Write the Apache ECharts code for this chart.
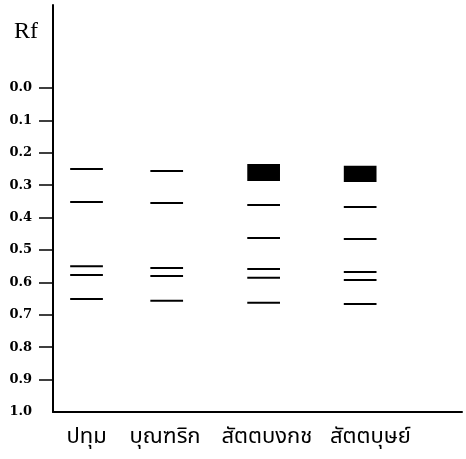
<!DOCTYPE html>
<html>
<head>
<meta charset="utf-8">
<script src="https://cdn.jsdelivr.net/npm/echarts@6/dist/echarts.min.js"></script>
<style>html,body{margin:0;padding:0;background:#fff}#c{width:466px;height:459px}</style>
</head>
<body>
<div id="c"></div>
<script>
// Samples (lanes)
const samples = ['ปทุม', 'บุณฑริก', 'สัตตบงกช', 'สัตตบุษย์'];
// Lane centre positions on the plate (0-100 across the plate width)
const laneX = [8.2, 27.8, 51.5, 75.1];
// Sample label positions along the bottom (0-100 across the plate width)
const labelX = [8.2, 27.4, 52.3, 77.6];
// Thin spots (Rf values) per sample
const thinBands = [
  [0.250, 0.352, 0.550, 0.577, 0.651],
  [0.256, 0.355, 0.556, 0.580, 0.657],
  [0.361, 0.463, 0.559, 0.586, 0.663],
  [0.367, 0.466, 0.568, 0.593, 0.667]
];
// Thick (intense) spots as [Rf start, Rf end] per sample
const thickBands = [
  null,
  null,
  [0.235, 0.287],
  [0.240, 0.290]
];
// Rf tick values
const rfLabels = [0.0, 0.1, 0.2, 0.3, 0.4, 0.5, 0.6, 0.7, 0.8, 0.9, 1.0];
const rfTicks = [0.0, 0.1, 0.2, 0.3, 0.4, 0.5, 0.6, 0.7, 0.8, 0.9];

const bandData = [];
samples.forEach((s, i) => {
  thinBands[i].forEach(rf => bandData.push([laneX[i], rf, rf]));
  if (thickBands[i]) bandData.push([laneX[i], thickBands[i][0], thickBands[i][1]]);
});

const HALF = 4.0;
const chart = echarts.init(document.getElementById('c'));
chart.setOption({
  animation: false,
  backgroundColor: '#fff',
  title: {
    text: 'Rf', left: 9, top: 15,
    textStyle: {fontFamily: 'Liberation Serif', fontSize: 24, fontWeight: 'normal', color: '#000'}
  },
  grid: {left: 53, right: 4, top: 5, bottom: 47},
  xAxis: {
    type: 'value', min: 0, max: 100,
    axisLine: {show: true, onZero: false, lineStyle: {color: '#000', width: 2}},
    axisTick: {show: false},
    splitLine: {show: false},
    axisLabel: {
      customValues: labelX,
      margin: 16,
      color: '#000',
      fontSize: 22,
      fontFamily: 'Noto Sans Thai, Noto Sans, sans-serif',
      formatter: v => {
        let best = 0;
        labelX.forEach((x, i) => { if (Math.abs(x - v) < Math.abs(labelX[best] - v)) best = i; });
        return samples[best];
      }
    }
  },
  yAxis: {
    type: 'value', inverse: true, min: -0.256, max: 1.0,
    axisLine: {show: true, onZero: false, lineStyle: {color: '#000', width: 2}},
    axisTick: {show: true, customValues: rfTicks, length: 14, lineStyle: {color: '#000', width: 1.5}},
    splitLine: {show: false},
    axisLabel: {
      customValues: rfLabels,
      margin: 21,
      color: '#000',
      fontSize: 13,
      fontWeight: 'bold',
      fontFamily: 'DejaVu Serif',
      formatter: v => v.toFixed(1)
    }
  },
  series: [{
    type: 'custom',
    data: bandData,
    renderItem: (params, api) => {
      const x = api.value(0);
      const p1 = api.coord([x - HALF, api.value(1)]);
      const p2 = api.coord([x + HALF, api.value(2)]);
      if (api.value(1) === api.value(2)) {
        return {type: 'line', shape: {x1: p1[0], y1: p1[1], x2: p2[0], y2: p2[1]},
          style: {stroke: '#000', lineWidth: 2}};
      }
      return {type: 'rect', shape: {x: p1[0], y: p1[1], width: p2[0] - p1[0], height: p2[1] - p1[1]},
        style: {fill: '#000'}};
    }
  }]
});
</script>
</body>
</html>
